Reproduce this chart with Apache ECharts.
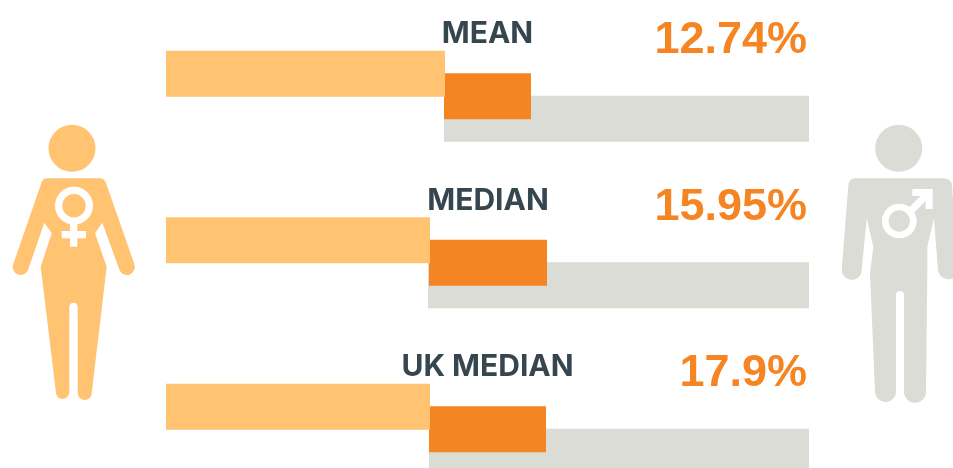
<!DOCTYPE html>
<html>
<head>
    <meta charset="utf-8">
    <title>Pay gap</title>
    <script src="https://cdn.jsdelivr.net/npm/echarts@6/dist/echarts.min.js"></script>
    <style>
        html, body { margin: 0; background: #fff; }
    </style>
</head>
<body>
<div id="main" style="width: 953px;height:468px;"></div>

<script type="text/javascript">
    // chart data, lengths
    var categories = ['MEAN', 'MEDIAN', 'UK MEDIAN'];
    var gapLabels = ['12.74%', '15.95%', '17.9%'];
    var womenBar = [279, 264, 264];
    var gapStart = [278, 263, 263];
    var gapBar = [87, 118, 117];
    var menStart = [278, 262, 263];
    var menBar = [365, 381, 380];

    var WOMEN = '#FFC372', GAP = '#F58422', MEN = '#DBDCD6', INK = '#36464F';

    var myChart = echarts.init(document.getElementById('main'));

    function bar(name, data, stack, color, z, label) {
        return {
            name: name, type: 'bar', data: data, stack: stack, z: z,
            barWidth: 46, barGap: '-51%', silent: true, animation: false,
            itemStyle: { color: color },
            label: label || { show: false }
        };
    }

    // figures drawn in page pixels
    var womanBody = 'M46.7 178.3 L100 178.3 Q105 178.3 106.7 185 L134.3 264 A7.7 7.7 0 1 1 119.5 270 L102.3 222.7 L95 233.3 L106.7 266.7 L91.7 393 A7 7 0 0 1 77.7 393 L77.7 307 A4.2 4.2 0 0 0 69.3 307 L69.3 393 A6.7 6.7 0 0 1 56 393 L40.7 266.7 L51.7 233.3 L44.3 222.7 L28 270 A7.7 7.7 0 1 1 13.3 264 L40.7 185 Q42 178.3 46.7 178.3 Z';
    var manBody = 'M855 178.3 L943.5 178.3 Q951.5 178.3 952 186 L958.5 270 A10.3 10.3 0 0 1 938 270 L934 218.3 L927.3 246.7 L927.3 273.3 L926 391.7 A11 11 0 0 1 904 391.7 L904 295 A4 4 0 0 0 896 295 L896 391.7 A10.5 10.5 0 0 1 875 391.7 L870 273.3 L873.3 246.7 L866.7 218.3 L861.7 270 A10 10 0 0 1 841.7 270 L848.3 186 Q849 178.3 855 178.3 Z';
    var manArrow = 'M912.3 189 L932.7 189 L932.7 209 L925.7 209 L925.7 201 L911 215.5 L906 210.5 L920.5 196 L912.3 196 Z';

    echarts.graphic.registerShape('womanBody', echarts.graphic.extendPath(womanBody));
    echarts.graphic.registerShape('manBody', echarts.graphic.extendPath(manBody));
    echarts.graphic.registerShape('manArrow', echarts.graphic.extendPath(manArrow));

    var option = {
        backgroundColor: '#fff',
        animation: false,
        // last row runs off the bottom of the page, so no bounds clamp
        grid: { left: 166, width: 643, top: 13, height: 499.5, outerBoundsMode: 'none' },
        xAxis: { type: 'value', min: 0, max: 643, show: false },
        yAxis: { type: 'category', inverse: true, data: categories, show: false },
        series: [
            bar('Women', womenBar, 'women', WOMEN, 4),
            bar('gap offset', gapStart, 'gap', 'transparent', 1),
            bar('Gap', gapBar, 'gap', GAP, 3, {
                show: true, position: ['50%', -39], align: 'center', verticalAlign: 'middle',
                color: INK, fontFamily: 'Inter, "Liberation Sans", sans-serif', fontWeight: 'bold', fontSize: 30,
                formatter: function (p) { return categories[p.dataIndex]; }
            }),
            bar('men offset', menStart, 'men', 'transparent', 1),
            bar('Men', menBar, 'men', MEN, 2, {
                show: true, position: ['100%', -55], offset: [-2, 0], align: 'right', verticalAlign: 'middle',
                color: GAP, fontFamily: '"Liberation Sans", Arial, sans-serif', fontWeight: 'bold', fontSize: 45,
                formatter: function (p) { return gapLabels[p.dataIndex]; }
            })
        ],
        graphic: [
            { type: 'circle', shape: { cx: 72, cy: 148.3, r: 23.5 }, style: { fill: WOMEN } },
            { type: 'womanBody', style: { fill: WOMEN } },
            { type: 'circle', shape: { cx: 74, cy: 205.7, r: 15.3 }, style: { fill: WOMEN, stroke: '#fff', lineWidth: 7.3 } },
            { type: 'rect', shape: { x: 70, y: 221.7, width: 7.3, height: 25 }, style: { fill: '#fff' } },
            { type: 'rect', shape: { x: 61.7, y: 231, width: 24.3, height: 7.3 }, style: { fill: '#fff' } },

            { type: 'circle', shape: { cx: 898.7, cy: 148.3, r: 23.5 }, style: { fill: MEN } },
            { type: 'manBody', style: { fill: MEN } },
            { type: 'circle', shape: { cx: 899.3, cy: 221, r: 14 }, style: { fill: MEN, stroke: '#fff', lineWidth: 6.7 } },
            { type: 'manArrow', style: { fill: '#fff' } }
        ]
    };

    myChart.setOption(option);
</script>
</body>
</html>
